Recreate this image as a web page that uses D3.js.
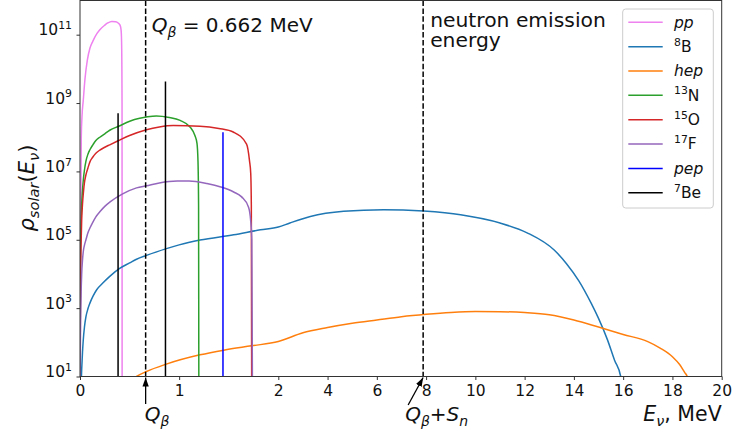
<!DOCTYPE html>
<html>
<head>
<meta charset="utf-8">
<script src="https://cdn.jsdelivr.net/npm/d3@7"></script>
<style>
  body { margin: 0; background: #fff; }
  svg { font-family: "DejaVu Sans", sans-serif; }
</style>
</head>
<body>
<svg id="chart" width="733" height="436"></svg>
<script>
// spectra: [E in MeV, rho]
const pp = [[0, 1], [0.004, 1e3], [0.008, 1e6], [0.013, 1e8], [0.02, 4e8], [0.033, 1.2e9],
  [0.05, 5e9], [0.074, 1.8e10], [0.1, 4e10], [0.13, 6.5e10], [0.17, 1.07e11], [0.2, 1.4e11],
  [0.25, 1.9e11], [0.28, 2.2e11], [0.32, 2.45e11], [0.36, 2.4e11], [0.385, 2.2e11], [0.404, 1.9e11],
  [0.414, 1.4e11], [0.419, 7e10], [0.422, 1.5e10], [0.424, 1e9], [0.425, 1]];
const b8 = [[0, 1], [0.008, 3], [0.017, 16], [0.025, 50], [0.033, 117], [0.045, 280],
  [0.06, 560], [0.08, 955], [0.1, 1.4e3], [0.13, 2.2e3], [0.17, 3.5e3], [0.23, 5.4e3],
  [0.3, 8.5e3], [0.4, 1.45e4], [0.5, 2.1e4], [0.57, 2.7e4], [0.67, 3.5e4], [0.88, 5.6e4],
  [1.0, 7.1e4], [1.21, 9.8e4], [1.55, 1.4e5], [1.82, 1.95e5], [2.0, 2.35e5], [2.47, 3.1e5],
  [3.3, 4.8e5], [4.65, 6.8e5], [6.28, 7.6e5], [7.9, 6.9e5], [9.4, 5.4e5], [11.0, 3.1e5],
  [12.1, 1.6e5], [13.2, 5e4], [13.7, 2e4], [14.2, 6.3e3], [14.7, 1.4e3], [15.0, 500],
  [15.36, 120], [15.65, 30], [15.9, 10], [16.0, 1]];
const hep = [[0.5, 7], [0.57, 10], [0.67, 14], [0.87, 23], [1.21, 43], [1.45, 59], [1.73, 79],
  [2.0, 105], [3, 190], [4, 270], [5, 360], [6, 450], [7, 560], [8, 660], [9, 750], [10, 800],
  [11, 790], [12, 740], [13, 640], [14, 450], [15, 280], [16, 170], [17, 105], [17.5, 68],
  [18, 38], [18.3, 22], [18.5, 13], [18.6, 10], [18.7, 1]];
const n13 = [[0, 1], [0.005, 4e4], [0.01, 2.5e5], [0.017, 1.1e6], [0.025, 2.8e6], [0.035, 6.3e6],
  [0.045, 1.1e7], [0.06, 2e7], [0.08, 3.2e7], [0.1, 4.3e7], [0.13, 6e7], [0.16, 8e7],
  [0.2, 1e8], [0.25, 1.26e8], [0.3, 1.6e8], [0.39, 2.1e8], [0.55, 3.3e8], [0.67, 3.9e8],
  [0.77, 4.2e8], [0.9, 3.8e8], [1.01, 3.1e8], [1.11, 2e8], [1.16, 1.1e8], [1.18, 6.6e7],
  [1.19, 2e7], [1.196, 1e6], [1.199, 1]];
const o15 = [[0, 1], [0.005, 8e3], [0.01, 6e4], [0.017, 3.8e5], [0.025, 1.1e6], [0.035, 2.5e6],
  [0.044, 4.5e6], [0.06, 8e6], [0.08, 1.26e7], [0.1, 1.9e7], [0.128, 2.6e7], [0.16, 3.4e7],
  [0.2, 4.2e7], [0.25, 5.1e7], [0.3, 6e7], [0.39, 8e7], [0.5, 1.12e8], [0.67, 1.66e8],
  [0.8, 2e8], [0.94, 2.2e8], [1.21, 2.1e8], [1.4, 1.8e8], [1.55, 1.4e8], [1.68, 6.3e7],
  [1.71, 2e7], [1.722, 8.7e6], [1.728, 1e6], [1.732, 1]];
const f17 = [[0, 1], [0.005, 300], [0.01, 2e3], [0.017, 1e4], [0.025, 2.5e4], [0.035, 5e4],
  [0.045, 7e4], [0.06, 1e5], [0.08, 1.6e5], [0.1, 2.2e5], [0.13, 3.3e5], [0.16, 4.7e5],
  [0.2, 6.6e5], [0.25, 9.5e5], [0.3, 1.26e6], [0.43, 2.2e6], [0.57, 3.3e6], [0.67, 3.8e6],
  [0.8, 4.6e6], [0.98, 5.2e6], [1.1, 5.2e6], [1.28, 4.4e6], [1.42, 3.5e6], [1.55, 2.5e6],
  [1.63, 1.8e6], [1.7, 9e5], [1.72, 4e5], [1.733, 1e5], [1.74, 1]];
// monoenergetic lines: [E, height]
const pepLines = [[1.442, 1.4e8]];
const be7Lines = [[0.384, 5e8], [0.862, 4.3e9]];

const qBeta = 0.662;
const qBetaSn = 7.88;
const xTicks = [0, 1, 2, 4, 6, 8, 10, 12, 14, 16, 18, 20];
const yTicks = [1e1, 1e3, 1e5, 1e7, 1e9, 1e11];

const plotL = 80, plotR = 721.7, plotT = 0.5, plotB = 376.5;
const fs = 15.5;

const svg = d3.select('#chart');

// x axis is stretched below 2 MeV
const x = d3.scaleLinear().domain([0, 2, 20]).range([plotL, 278.3, plotR]);
const y = d3.scaleLog().domain([10, 1e12]).range([plotB, plotT]);

const defs = svg.append('defs');
defs.append('clipPath').attr('id', 'plot-clip')
  .append('rect')
  .attr('x', plotL).attr('y', plotT)
  .attr('width', plotR - plotL).attr('height', plotB - plotT);

// helper for text with sub/superscripts
const rich = (sel, parts, size) => {
  let shift = 0;
  parts.forEach(p => {
    const target = p.sub ? size * 0.24 : p.sup ? -size * 0.4 : 0;
    sel.append('tspan')
      .attr('dy', (target - shift).toFixed(2))
      .attr('font-size', p.sub || p.sup ? size * 0.7 : size)
      .attr('font-style', p.it ? 'italic' : null)
      .text(p.t);
    shift = target;
  });
  return sel;
};

const series = [
  { key: 'pp', data: pp, color: 'violet', label: [{ t: 'pp', it: true }] },
  { key: 'b8', data: b8, color: '#1f77b4', label: [{ t: '8', sup: true }, { t: 'B' }] },
  { key: 'hep', data: hep, color: '#ff7f0e', label: [{ t: 'hep', it: true }] },
  { key: 'n13', data: n13, color: '#2ca02c', label: [{ t: '13', sup: true }, { t: 'N' }] },
  { key: 'o15', data: o15, color: '#d62728', label: [{ t: '15', sup: true }, { t: 'O' }] },
  { key: 'f17', data: f17, color: '#9467bd', label: [{ t: '17', sup: true }, { t: 'F' }] },
  { key: 'pep', lines: pepLines, color: 'blue', label: [{ t: 'pep', it: true }] },
  { key: 'be7', lines: be7Lines, color: 'black', label: [{ t: '7', sup: true }, { t: 'Be' }] }
];

const line = d3.line()
  .x(d => x(d[0]))
  .y(d => y(Math.max(d[1], 1)))
  .curve(d3.curveMonotoneX);

const plot = svg.append('g').attr('clip-path', 'url(#plot-clip)');

series.forEach(s => {
  if (s.data) {
    plot.append('path')
      .datum(s.data)
      .attr('d', line)
      .attr('fill', 'none')
      .attr('stroke', s.color)
      .attr('stroke-width', 1.5);
  } else {
    plot.selectAll(null)
      .data(s.lines)
      .enter()
      .append('line')
      .attr('x1', d => x(d[0])).attr('x2', d => x(d[0]))
      .attr('y1', plotB).attr('y2', d => y(d[1]))
      .attr('stroke', s.color)
      .attr('stroke-width', 1.5);
  }
});

// dashed markers
plot.selectAll('.marker')
  .data([qBeta, qBetaSn])
  .enter()
  .append('line')
  .attr('class', 'marker')
  .attr('x1', d => x(d)).attr('x2', d => x(d))
  .attr('y1', plotT).attr('y2', plotB)
  .attr('stroke', 'black')
  .attr('stroke-width', 1.5)
  .attr('stroke-dasharray', '5.5,2.4');

// frame
svg.append('rect')
  .attr('x', plotL).attr('y', plotT)
  .attr('width', plotR - plotL).attr('height', plotB - plotT)
  .attr('fill', 'none')
  .attr('stroke', '#333')
  .attr('stroke-width', 1);

// x axis
const xAxis = svg.append('g')
  .attr('transform', `translate(0,${plotB})`)
  .call(d3.axisBottom(x).tickValues(xTicks).tickFormat(d3.format('d')).tickSize(3.5).tickPadding(5.4));
xAxis.select('.domain').remove();
xAxis.selectAll('line').attr('stroke', '#333');
xAxis.selectAll('text')
  .attr('font-family', '"DejaVu Sans", sans-serif')
  .attr('font-size', fs).attr('fill', '#111');

// y axis with powers of ten
const yAxis = svg.append('g')
  .attr('transform', `translate(${plotL},0)`)
  .call(d3.axisLeft(y).tickValues(yTicks).tickFormat('').tickSize(3.5));
yAxis.select('.domain').remove();
yAxis.selectAll('line').attr('stroke', '#333');
yAxis.selectAll('.tick').each(function (d) {
  const t = d3.select(this).select('text')
    .attr('x', -8).attr('dy', '0.36em')
    .attr('text-anchor', 'end')
    .attr('font-family', '"DejaVu Sans", sans-serif')
    .attr('fill', '#111');
  rich(t, [{ t: '10' }, { t: String(Math.round(Math.log10(d))), sup: true }], fs);
});

// axis titles
rich(svg.append('text')
  .attr('transform', 'translate(34,188) rotate(-90)')
  .attr('text-anchor', 'middle')
  .attr('fill', '#111'),
  [{ t: 'ρ', it: true }, { t: 'solar', it: true, sub: true }, { t: '(' }, { t: 'E', it: true },
   { t: 'ν', it: true, sub: true }, { t: ')' }], 21);

rich(svg.append('text')
  .attr('x', plotR).attr('y', 421)
  .attr('text-anchor', 'end')
  .attr('fill', '#111'),
  [{ t: 'E', it: true }, { t: 'ν', it: true, sub: true }, { t: ', MeV' }], 20.5);

// annotations
rich(svg.append('text').attr('x', x(qBeta) + 6).attr('y', 32).attr('fill', '#111'),
  [{ t: 'Q', it: true }, { t: 'β', it: true, sub: true }, { t: ' = 0.662 MeV' }], 20);

svg.selectAll('.ne')
  .data(['neutron emission', 'energy'])
  .enter()
  .append('text')
  .attr('class', 'ne')
  .attr('x', x(qBetaSn) + 7)
  .attr('y', (d, i) => 27 + i * 20)
  .attr('font-size', 20.3)
  .attr('fill', '#111')
  .text(d => d);

defs.append('marker')
  .attr('id', 'head')
  .attr('viewBox', '0 0 10 10')
  .attr('refX', 10).attr('refY', 5)
  .attr('markerWidth', 9).attr('markerHeight', 9)
  .attr('markerUnits', 'userSpaceOnUse')
  .attr('orient', 'auto')
  .append('path')
  .attr('d', 'M0,1.5L10,5L0,8.5Z')
  .attr('fill', 'black');

const arrows = [
  { x0: x(qBeta), y0: 404, x1: x(qBeta), y1: plotB + 1 },
  { x0: x(qBetaSn) - 15, y0: 405, x1: x(qBetaSn), y1: plotB + 1 }
];
svg.selectAll('.arrow')
  .data(arrows)
  .enter()
  .append('line')
  .attr('class', 'arrow')
  .attr('x1', d => d.x0).attr('y1', d => d.y0)
  .attr('x2', d => d.x1).attr('y2', d => d.y1)
  .attr('stroke', 'black')
  .attr('stroke-width', 1.3)
  .attr('marker-end', 'url(#head)');

rich(svg.append('text').attr('x', x(qBeta) - 1).attr('y', 421).attr('fill', '#111'),
  [{ t: 'Q', it: true }, { t: 'β', it: true, sub: true }], 20);
rich(svg.append('text').attr('x', x(qBetaSn) - 18).attr('y', 421).attr('fill', '#111'),
  [{ t: 'Q', it: true }, { t: 'β', it: true, sub: true }, { t: '+' }, { t: 'S', it: true },
   { t: 'n', it: true, sub: true }], 20);

// legend
const legend = svg.append('g');
legend.append('rect')
  .attr('x', 622.7).attr('y', 9)
  .attr('width', 90.6).attr('height', 199)
  .attr('rx', 3)
  .attr('fill', 'white').attr('fill-opacity', 0.8)
  .attr('stroke', '#ccc');
const entry = legend.selectAll('.entry')
  .data(series)
  .enter()
  .append('g')
  .attr('class', 'entry')
  .attr('transform', (d, i) => `translate(0,${22.3 + i * 24.35})`);
entry.append('line')
  .attr('x1', 628.3).attr('x2', 662.7)
  .attr('stroke', d => d.color)
  .attr('stroke-width', 1.5);
entry.each(function (d) {
  rich(d3.select(this).append('text').attr('x', 674).attr('y', 5.2).attr('fill', '#111'), d.label, fs);
});
</script>
</body>
</html>
